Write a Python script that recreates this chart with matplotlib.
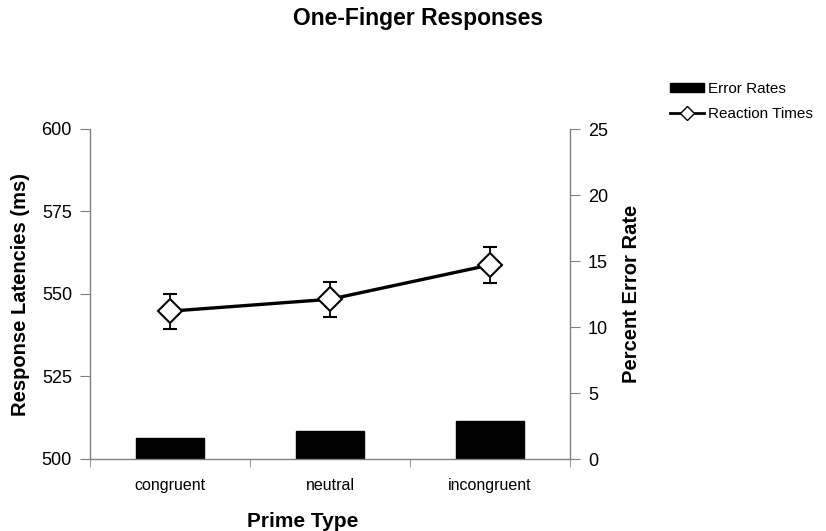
import matplotlib
matplotlib.use("Agg")
import matplotlib.pyplot as plt
from matplotlib.lines import Line2D
from matplotlib.patches import Patch
import numpy as np

plt.rcParams['font.family'] = ['Liberation Sans', 'DejaVu Sans']

categories = ['congruent', 'neutral', 'incongruent']
reaction_times = [544.8, 548.4, 558.8]
rt_errors = [5.3, 5.3, 5.4]
error_rates = [1.6, 2.1, 2.9]
left_ticks = [500, 525, 550, 575, 600]
right_ticks = [0, 5, 10, 15, 20, 25]

fig = plt.figure(figsize=(8.26, 5.31), dpi=100)
ax = fig.add_axes([90/826, 72/531, 480/826, 330/531])
ax2 = ax.twinx()

x = np.arange(len(categories))
gray = '#808080'

ax2.bar(x, error_rates, width=0.42, color='black', edgecolor='black')
ax2.set_ylim(0, 25)
ax2.set_yticks(right_ticks)

ax.errorbar(x, reaction_times, yerr=rt_errors, color='black', lw=2.4,
            marker='D', markersize=12, markerfacecolor='white',
            markeredgecolor='black', markeredgewidth=1.5,
            ecolor='black', elinewidth=1.3, capsize=5, capthick=1.5, zorder=3)
ax.set_ylim(500, 600)
ax.set_yticks(left_ticks)
ax.set_xlim(-0.5, 2.5)
ax.set_xticks(x)
ax.set_xticklabels(categories, fontsize=11.5)
ax.set_xticks([-0.5, 0.5, 1.5, 2.5], minor=True)
ax.tick_params(axis='x', which='major', length=0, pad=14)
ax.tick_params(axis='x', which='minor', length=6, color=gray, direction='out')

ax.set_zorder(ax2.get_zorder() + 1)
ax.patch.set_visible(False)

for a in (ax, ax2):
    a.spines['top'].set_visible(False)
    for s in ('left', 'right', 'bottom'):
        a.spines[s].set_color(gray)
        a.spines[s].set_linewidth(1.0)
ax.spines['right'].set_visible(False)
ax2.spines['left'].set_visible(False)
ax2.spines['bottom'].set_visible(False)

ax.tick_params(axis='y', length=7, color=gray, labelsize=13, pad=6)
ax2.tick_params(axis='y', length=7, color=gray, labelsize=13, pad=6)

ax.set_ylabel('Response Latencies (ms)', fontsize=14.5, fontweight='bold', labelpad=8)
ax2.set_ylabel('Percent Error Rate', fontsize=14.5, fontweight='bold', labelpad=10)
ax.set_xlabel('Prime Type', fontsize=15, fontweight='bold')
ax.xaxis.set_label_coords((303 - 90) / 480, -0.16)

fig.suptitle('One-Finger Responses', x=418/826, y=1 - 7/531, va='top',
             fontsize=16.5, fontweight='bold')

handles = [Patch(facecolor='black', edgecolor='black', label='Error Rates'),
           Line2D([0], [0], color='black', lw=2, marker='D', markersize=7,
                  markerfacecolor='white', markeredgecolor='black', label='Reaction Times')]
fig.legend(handles=handles, loc='upper left', bbox_to_anchor=(670/826, 1 - 82/531),
           frameon=False, fontsize=11, handlelength=2.2, handleheight=0.6,
           handletextpad=0.3, labelspacing=0.7, borderaxespad=0, borderpad=0)

fig.savefig('out.png', dpi=100)
